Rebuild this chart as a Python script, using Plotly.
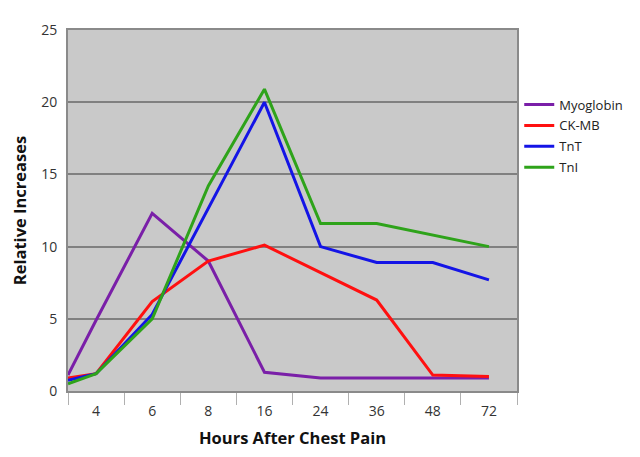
import plotly.graph_objects as go

hours = ["0", "4", "6", "8", "16", "24", "36", "48", "72"]
tick_labels = ["4", "6", "8", "16", "24", "36", "48", "72"]

myoglobin = [1.1, 4.9, 12.3, 9.0, 1.3, 0.9, 0.9, 0.9, 0.9]
ck_mb = [0.9, 1.2, 6.2, 9.0, 10.1, 8.2, 6.3, 1.1, 1.0]
tnt = [0.75, 1.2, 5.3, 12.7, 20.0, 10.0, 8.9, 8.9, 7.7]
tni = [0.5, 1.2, 5.0, 14.2, 20.9, 11.6, 11.6, 10.8, 10.0]

series = [("Myoglobin", myoglobin, "#7a1fa8"),
          ("CK-MB", ck_mb, "#ff1010"),
          ("TnT", tnt, "#1414e6"),
          ("TnI", tni, "#2ea31a")]

# x positions: first sample at the left edge, others centred in their category band
xpos = [-0.5] + list(range(len(tick_labels)))

fig = go.Figure()
for name, vals, col in series:
    fig.add_trace(go.Scatter(x=xpos, y=vals, mode="lines", name=name,
                             legendgroup=name,
                             line=dict(color=col, width=3)))

font_family = "Open Sans, Liberation Sans, sans-serif"
fig.update_layout(
    width=632, height=449,
    margin=dict(l=56, r=121, t=18, b=66),
    paper_bgcolor="white",
    plot_bgcolor="#c9c9c9",
    font=dict(family=font_family, color="#333333", size=14),
    showlegend=True,
    legend=dict(x=1.005, y=0.835, xanchor="left", yanchor="top",
                font=dict(size=13, color="#222"), bgcolor="rgba(0,0,0,0)",
                itemwidth=30, tracegroupgap=1),
    xaxis=dict(range=[-0.5, 7.5], tickvals=list(range(len(tick_labels))),
               ticktext=tick_labels, ticks="", showgrid=False, zeroline=False,
               showline=True, linecolor="#8a8a8a", linewidth=2, mirror=True,
               ticklabelstandoff=6,
               minor=dict(ticks="outside", ticklen=12, tickcolor="#b0b0b0",
                          tickwidth=1, tick0=-0.5, dtick=1, showgrid=False),
               title=dict(text="<b>Hours After Chest Pain</b>",
                          font=dict(size=16.5, color="#111"), standoff=14),
               tickfont=dict(size=14, color="#333")),
    yaxis=dict(range=[0, 25], tickvals=[0, 5, 10, 15, 20, 25],
               showgrid=True, gridcolor="#808080", gridwidth=2, zeroline=False,
               showline=True, linecolor="#8a8a8a", linewidth=2, mirror=True,
               ticks="", ticklabelstandoff=6,
               title=dict(text="<b>Relative Increases</b>",
                          font=dict(size=16.5, color="#111"), standoff=10),
               tickfont=dict(size=14, color="#333")),
)

fig.write_html("out.html")
